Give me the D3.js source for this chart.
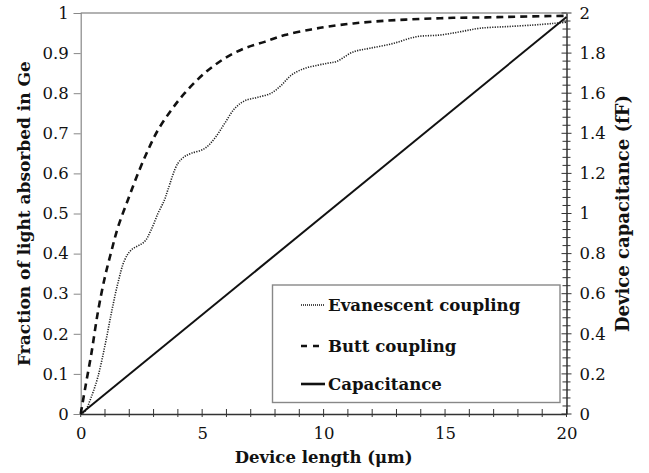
<!DOCTYPE html>
<html>
<head>
<meta charset="utf-8">
<script src="https://cdn.jsdelivr.net/npm/d3@7"></script>
<style>
  html, body { margin: 0; padding: 0; background: #fff; }
  svg { display: block; }
</style>
</head>
<body>
<svg id="chart" width="649" height="473"></svg>
<script>
// ---- data ----
const evanescentLength = [0, 0.16, 0.44, 0.71, 0.99, 1.26, 1.53, 1.81, 2.08, 2.63, 2.9, 3.18, 3.45, 3.59, 4.0, 4.28, 4.55, 5.1, 5.51, 5.93, 6.34, 6.75, 7.3, 7.84, 8.26, 8.67, 9.22, 9.77, 10.18, 10.53, 11.22, 11.9, 12.86, 13.83, 14.79, 15.61, 16.43, 17.53, 18.63, 19.45, 20];
const evanescentValue  = [0, 0.005, 0.043, 0.093, 0.168, 0.251, 0.326, 0.384, 0.409, 0.43, 0.459, 0.50, 0.534, 0.559, 0.625, 0.642, 0.650, 0.662, 0.687, 0.725, 0.762, 0.781, 0.790, 0.80, 0.82, 0.845, 0.862, 0.870, 0.875, 0.879, 0.903, 0.912, 0.924, 0.941, 0.945, 0.953, 0.962, 0.966, 0.970, 0.974, 0.977];
const buttLength = [0, 0.2, 0.44, 0.71, 0.99, 1.26, 1.53, 1.95, 2.36, 2.77, 3.18, 3.73, 4.28, 5.1, 5.93, 6.75, 7.57, 8.4, 9.49, 10.18, 11.22, 12.6, 13.96, 15.33, 16.7, 18.07, 20];
const buttValue  = [0, 0.07, 0.151, 0.255, 0.34, 0.405, 0.465, 0.535, 0.60, 0.658, 0.708, 0.758, 0.80, 0.85, 0.887, 0.912, 0.928, 0.945, 0.959, 0.966, 0.974, 0.981, 0.985, 0.988, 0.989, 0.991, 0.993];
const capLength = [0, 20];
const capValue  = [0, 1.98];   // fF
const xTicks = [0, 5, 10, 15, 20];
const yLeftTicks = [0, 0.1, 0.2, 0.3, 0.4, 0.5, 0.6, 0.7, 0.8, 0.9, 1];
const yRightTicks = [0, 0.2, 0.4, 0.6, 0.8, 1, 1.2, 1.4, 1.6, 1.8, 2];
const legendLabels = ["Evanescent coupling", "Butt coupling", "Capacitance"];

// ---- layout ----
const svg = d3.select("#chart");
const L = 80.7, R = 566.5, T = 13, B = 414;
const FONT = "'DejaVu Serif', 'Liberation Serif', serif";

const x = d3.scaleLinear().domain([0, 20]).range([L, R]);
const yL = d3.scaleLinear().domain([0, 1]).range([B, T]);
const yR = d3.scaleLinear().domain([0, 2]).range([B, T]);

// top border (grey)
svg.append("line").attr("x1", L).attr("x2", R).attr("y1", T).attr("y2", T)
  .attr("stroke", "#999").attr("stroke-width", 1.5);

// left axis
const gL = svg.append("g").attr("transform", `translate(${L},0)`)
  .call(d3.axisLeft(yL).tickValues(yLeftTicks).tickSize(7).tickPadding(5)
    .tickFormat(d => d3.format("~g")(d)));
gL.select(".domain").attr("stroke", "#888").attr("stroke-width", 1.2);
gL.selectAll(".tick line").attr("stroke", "#888");
gL.selectAll("text").attr("font-family", FONT).attr("font-size", 16.5).attr("fill", "#111");

// bottom axis
const gB = svg.append("g").attr("transform", `translate(0,${B})`)
  .call(d3.axisBottom(x).tickValues(xTicks).tickSize(0).tickPadding(13));
gB.select(".domain").attr("stroke", "#333").attr("stroke-width", 1.4);
gB.selectAll("text").attr("font-family", FONT).attr("font-size", 16.5).attr("fill", "#111");
gB.selectAll(".minor").data(d3.range(0, 21, 1)).enter().append("line")
  .attr("x1", d => x(d)).attr("x2", d => x(d)).attr("y1", -5).attr("y2", 3)
  .attr("stroke", "#333").attr("stroke-width", 1);

// right axis
const gR = svg.append("g").attr("transform", `translate(${R},0)`)
  .call(d3.axisRight(yR).tickValues(yRightTicks).tickSize(0).tickPadding(13)
    .tickFormat(d => d3.format("~g")(d)));
gR.select(".domain").attr("stroke", "#222").attr("stroke-width", 1.4);
gR.selectAll("text").attr("font-family", FONT).attr("font-size", 16.5).attr("fill", "#111");
gR.selectAll(".minor").data(d3.range(0, 51, 1)).enter().append("line")
  .attr("x1", d => d % 5 === 0 ? -5 : -4).attr("x2", d => d % 5 === 0 ? 5 : 4)
  .attr("y1", d => yR(d * 0.04)).attr("y2", d => yR(d * 0.04))
  .attr("stroke", "#333").attr("stroke-width", 1);

// lines
const lineL = d3.line().x(d => x(d[0])).y(d => yL(d[1])).curve(d3.curveCatmullRom.alpha(0.5));
const lineR = d3.line().x(d => x(d[0])).y(d => yR(d[1]));

svg.append("path").datum(d3.zip(evanescentLength, evanescentValue))
  .attr("d", lineL).attr("fill", "none").attr("stroke", "#222")
  .attr("stroke-width", 1.6).attr("stroke-dasharray", "1.2,1.3");
svg.append("path").datum(d3.zip(buttLength, buttValue))
  .attr("d", lineL).attr("fill", "none").attr("stroke", "#111")
  .attr("stroke-width", 2.6).attr("stroke-dasharray", "7,5");
svg.append("path").datum(d3.zip(capLength, capValue))
  .attr("d", lineR).attr("fill", "none").attr("stroke", "#111")
  .attr("stroke-width", 2);

// legend
const lg = svg.append("g");
lg.append("rect").attr("x", 272.5).attr("y", 285).attr("width", 287.5).attr("height", 117.5)
  .attr("fill", "#fff").attr("stroke", "#888").attr("stroke-width", 1.4);
const legendStyles = [
  { w: 1.3, dash: "1,1" },
  { w: 2.4, dash: "6,6" },
  { w: 2.6, dash: null }
];
const legendY = [305, 346, 384];
legendLabels.forEach((lab, i) => {
  const ln = lg.append("line").attr("x1", 301).attr("x2", 325)
    .attr("y1", legendY[i]).attr("y2", legendY[i])
    .attr("stroke", "#111").attr("stroke-width", legendStyles[i].w);
  if (legendStyles[i].dash) ln.attr("stroke-dasharray", legendStyles[i].dash);
  lg.append("text").attr("x", 328).attr("y", legendY[i] + 6)
    .attr("font-family", FONT).attr("font-weight", "bold").attr("font-size", 16.6)
    .attr("fill", "#111").text(lab);
});

// axis titles
svg.append("text").attr("x", (L + R) / 2).attr("y", 463).attr("text-anchor", "middle")
  .attr("font-family", FONT).attr("font-weight", "bold").attr("font-size", 16.5)
  .attr("fill", "#111").text("Device length (μm)");
svg.append("text").attr("transform", `translate(30,${(T + B) / 2}) rotate(-90)`)
  .attr("text-anchor", "middle")
  .attr("font-family", FONT).attr("font-weight", "bold").attr("font-size", 17)
  .attr("fill", "#111").text("Fraction of light absorbed in Ge");
svg.append("text").attr("transform", `translate(629,${(T + B) / 2}) rotate(-90)`)
  .attr("text-anchor", "middle")
  .attr("font-family", FONT).attr("font-weight", "bold").attr("font-size", 18)
  .attr("fill", "#111").text("Device capacitance (fF)");
</script>
</body>
</html>
